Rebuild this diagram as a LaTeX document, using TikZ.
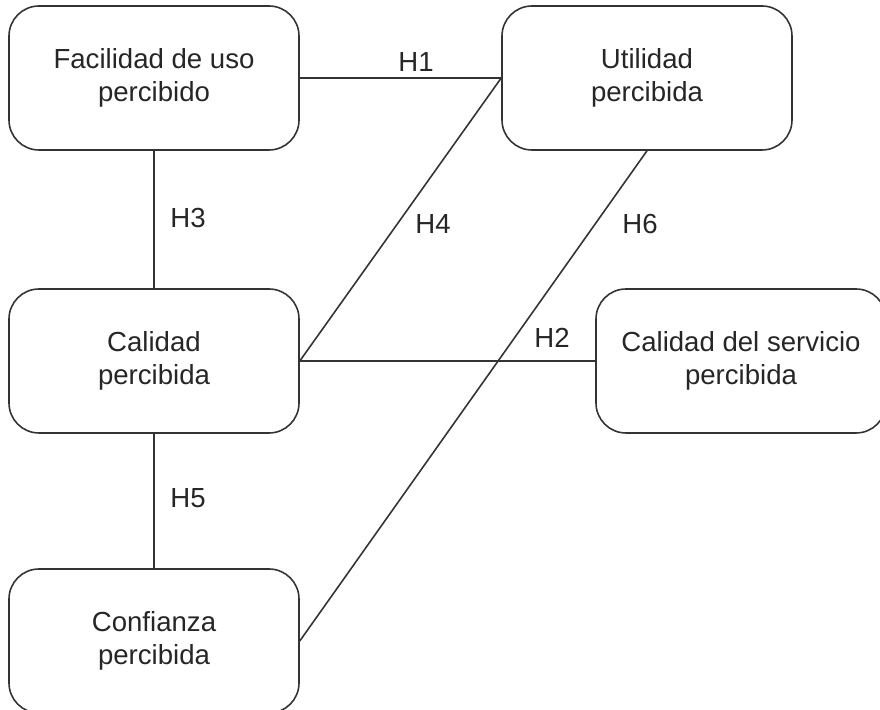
\documentclass[tikz,border=0pt]{standalone}
\usepackage{fontspec}
\setmainfont{Liberation Sans}

\begin{document}
\begin{tikzpicture}[
    line width=0.45pt, draw=black!80, text=black!85,
    box/.style={draw=black!80, rounded corners=0.3cm, minimum width=2.9cm,
        minimum height=1.44cm, inner sep=0pt, align=center,
        font=\fontsize{7.85}{9.2}\selectfont},
    hyp/.style={font=\fontsize{7.85}{9.2}\selectfont, inner sep=0pt}
]

\useasboundingbox (0,0) rectangle (8.8,7.1);

% constructs
\node[box] (fac) at (1.54, 6.32) {Facilidad de uso\\percibido};
\node[box] (uti) at (6.47, 6.32) {Utilidad\\percibida};
\node[box] (cal) at (1.54, 3.49) {Calidad\\percibida};
\node[box] (ser) at (7.41, 3.49) {Calidad del servicio\\percibida};
\node[box] (con) at (1.54, 0.69) {Confianza\\percibida};

% relations
\draw (fac.east) -- (uti.west);
\draw (fac.south) -- (cal.north);
\draw (cal.east) -- (uti.west);
\draw (cal.east) -- (ser.west);
\draw (cal.south) -- (con.north);
\draw (con.east) -- (uti.south);

\node[hyp] (h1) at (4.16, 6.48) {H1};
\node[hyp] (h3) at (1.88, 4.92) {H3};
\node[hyp] (h4) at (4.33, 4.86) {H4};
\node[hyp] (h6) at (6.40, 4.86) {H6};
\node[hyp] (h2) at (5.52, 3.72) {H2};
\node[hyp] (h5) at (1.88, 2.12) {H5};

\end{tikzpicture}
\end{document}
